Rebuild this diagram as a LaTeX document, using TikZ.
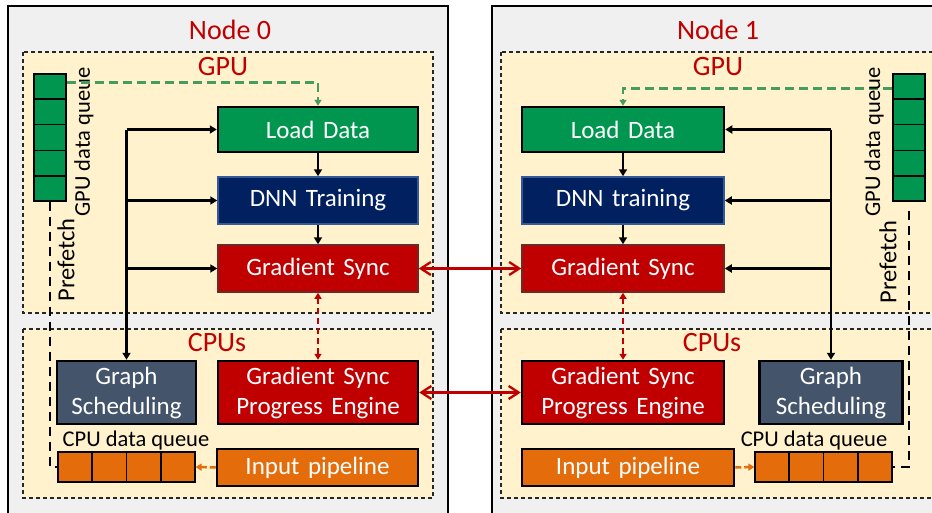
\documentclass[tikz,border=0pt]{standalone}
\usepackage{fontspec}
\setmainfont{Carlito}
\usetikzlibrary{arrows.meta,calc}
\definecolor{nodegray}{RGB}{240,240,240}
\definecolor{boxyellow}{RGB}{255,242,204}
\definecolor{ggreen}{RGB}{0,150,80}
\definecolor{lgreen}{RGB}{70,155,95}
\definecolor{navyfill}{RGB}{0,32,96}
\definecolor{navyborder}{RGB}{50,90,150}
\definecolor{dred}{RGB}{192,0,0}
\definecolor{dredborder}{RGB}{110,40,40}
\definecolor{slate}{RGB}{68,84,106}
\definecolor{orng}{RGB}{228,108,10}
\newcommand\procfont{\fontsize{25}{30}\selectfont\spaceskip=8.5pt plus 2pt\relax}
\begin{document}
\begin{tikzpicture}[x=1pt,y=-1pt,
  outerbox/.style={draw=black, line width=2.5pt, fill=nodegray},
  regionbox/.style={draw=black!85, dash pattern=on 4pt off 3pt, line width=1.2pt, fill=boxyellow},
  proc/.style={draw=black, line width=2.5pt, text=white, font=\procfont, inner sep=0pt, align=center, rectangle},
  titletext/.style={text=dred, font=\fontsize{28}{30}\selectfont, inner sep=0pt},
  qlabel/.style={font=\fontsize{22.5}{26}\selectfont, inner sep=0pt},
  queuebox/.style={draw=black, line width=1.2pt, inner sep=0pt, rectangle},
  conn/.style={draw=black, line width=2.3pt, -{Triangle[length=7pt,width=8pt]}},
  redlink/.style={draw=dred, line width=2.3pt, {Straight Barb[length=10pt,width=13pt]}-{Straight Barb[length=10pt,width=13pt]}},
  reddash/.style={draw=dred, line width=2.3pt, dash pattern=on 6pt off 4pt, {Triangle[length=6pt,width=7pt]}-{Triangle[length=6pt,width=7pt]}},
  greendash/.style={draw=lgreen, line width=2.6pt, dash pattern=on 9pt off 5pt, -{Triangle[length=6pt,width=7pt]}},
  orangedash/.style={draw=orng, line width=2.5pt, dash pattern=on 6pt off 3pt, -{Triangle[length=6pt,width=7pt]}},
  prefetchline/.style={draw=black, line width=2.6pt, dash pattern=on 9pt off 6pt}
]
\useasboundingbox (0,0) rectangle (932,512);
\fill[white] (0,0) rectangle (932,512);
\clip (0,0) rectangle (932,512);

% ---------- Node 0 ----------
\draw[outerbox] (8,6) rectangle (448,540);
\draw[regionbox] (23,52) rectangle (433,313);
\draw[regionbox] (23,329) rectangle (433,498);
\node[titletext] (n0title) at (230,30) {Node 0};
\node[titletext] (gpu0title) at (223,67) {GPU};
\node[titletext] (cpu0title) at (217,343) {CPUs};

\node[proc, fill=ggreen, minimum width=200pt, minimum height=45pt] (ld0) at (318,129.5) {Load Data};
\node[proc, fill=navyfill, draw=navyborder, line width=1.5pt, minimum width=200pt, minimum height=47pt] (dnn0) at (318,200.5) {DNN Training};
\node[proc, fill=dred, draw=dredborder, line width=1.5pt, minimum width=200pt, minimum height=47pt] (gs0) at (318,268.5) {Gradient Sync};
\node[proc, fill=dred, minimum width=200pt, minimum height=63pt] (gspe0) at (318,392.5) {Gradient Sync\\Progress Engine};
\node[proc, fill=slate, minimum width=139pt, minimum height=63pt] (gsch0) at (126.5,392.5) {Graph\\Scheduling};
\node[proc, fill=orng, minimum width=201pt, minimum height=37pt] (ip0) at (317.5,467.5) {Input pipeline};

\node[queuebox, fill=orng, minimum width=137pt, minimum height=30pt] (cq0) at (126.5,467) {};
\foreach \i in {1,2,3} \draw[line width=1.2pt] ($(cq0.north west)!\i/4!(cq0.north east)$) -- ($(cq0.south west)!\i/4!(cq0.south east)$);
\node[qlabel] (cq0lab) at (136,440) {CPU data queue};

\node[queuebox, fill=ggreen, minimum width=32pt, minimum height=127pt] (gq0) at (50,137.5) {};
\foreach \i in {1,2,3,4} \draw[line width=1.2pt] ($(gq0.north west)!\i/5!(gq0.south west)$) -- ($(gq0.north east)!\i/5!(gq0.south east)$);
\node[qlabel, rotate=90] (gq0lab) at (84,142) {GPU data queue};
\node[qlabel, font=\fontsize{24.5}{28}\selectfont, rotate=90] (pf0lab) at (66,260) {Prefetch};

% connectors node 0
\draw[conn] (ld0) -- (dnn0);
\draw[conn] (dnn0) -- (gs0);
\draw[line width=2.3pt] (ld0.west -| gsch0.north) -- (gs0.west -| gsch0.north);
\draw[conn] (gs0.west -| gsch0.north) -- (gsch0.north);
\draw[conn] (ld0.west -| gsch0.north) -- (ld0.west);
\draw[conn] (dnn0.west -| gsch0.north) -- (dnn0.west);
\draw[conn] (gs0.west -| gsch0.north) -- (gs0.west);
\draw[reddash] (gs0.south) -- (gspe0.north);
\draw[orangedash] (ip0.west) -- (cq0.east);
\coordinate (g0start) at ([yshift=-9pt]gq0.north east);
\draw[greendash] (g0start) -| (ld0.north);
\draw[prefetchline] (gq0.south) |- (cq0.west);

% ---------- Node 1 ----------
\draw[outerbox] (492,6) rectangle (960,540);
\draw[regionbox] (501,52) rectangle (960,313);
\draw[regionbox] (501,329) rectangle (960,498);
\node[titletext] (n1title) at (718,30) {Node 1};
\node[titletext] (gpu1title) at (718,67) {GPU};
\node[titletext] (cpu1title) at (712,343) {CPUs};

\node[proc, fill=ggreen, minimum width=202pt, minimum height=45pt] (ld1) at (623,129.5) {Load Data};
\node[proc, fill=navyfill, draw=navyborder, line width=1.5pt, minimum width=202pt, minimum height=47pt] (dnn1) at (623,200.5) {DNN training};
\node[proc, fill=dred, draw=dredborder, line width=1.5pt, minimum width=202pt, minimum height=47pt] (gs1) at (623,268.5) {Gradient Sync};
\node[proc, fill=dred, minimum width=202pt, minimum height=63pt] (gspe1) at (623,392.5) {Gradient Sync\\Progress Engine};
\node[proc, fill=slate, minimum width=143pt, minimum height=63pt] (gsch1) at (831,392.5) {Graph\\Scheduling};
\node[proc, fill=orng, minimum width=212pt, minimum height=37pt] (ip1) at (628,467.5) {Input pipeline};

\node[queuebox, fill=orng, minimum width=137pt, minimum height=30pt] (cq1) at (823.5,467) {};
\foreach \i in {1,2,3} \draw[line width=1.2pt] ($(cq1.north west)!\i/4!(cq1.north east)$) -- ($(cq1.south west)!\i/4!(cq1.south east)$);
\node[qlabel] (cq1lab) at (814,440) {CPU data queue};

\node[queuebox, fill=ggreen, minimum width=32pt, minimum height=127pt] (gq1) at (909,137.5) {};
\foreach \i in {1,2,3,4} \draw[line width=1.2pt] ($(gq1.north west)!\i/5!(gq1.south west)$) -- ($(gq1.north east)!\i/5!(gq1.south east)$);

% connectors node 1
\draw[conn] (ld1) -- (dnn1);
\draw[conn] (dnn1) -- (gs1);
\draw[line width=2.3pt] (ld1.east -| gsch1.north) -- (gs1.east -| gsch1.north);
\draw[conn] (gs1.east -| gsch1.north) -- (gsch1.north);
\draw[conn] (ld1.east -| gsch1.north) -- (ld1.east);
\draw[conn] (dnn1.east -| gsch1.north) -- (dnn1.east);
\draw[conn] (gs1.east -| gsch1.north) -- (gs1.east);
\draw[reddash] (gs1.south) -- (gspe1.north);
\draw[orangedash] (ip1.east) -- (cq1.west);
\coordinate (g1start) at ([yshift=-15pt]gq1.north west);
\draw[greendash] (g1start) -| (ld1.north);
\draw[prefetchline] ([yshift=-9pt]gq1.south) |- (cq1.east);
\node[qlabel, rotate=90] (gq1lab) at (874,142) {GPU data queue};
\node[qlabel, font=\fontsize{24.5}{28}\selectfont, rotate=90] (pf1lab) at (888,262) {Prefetch};

% ---------- links between nodes ----------
\draw[redlink] (gs0.east) -- (gs1.west);
\draw[redlink] (gspe0.east) -- (gspe1.west);
\end{tikzpicture}
\end{document}
